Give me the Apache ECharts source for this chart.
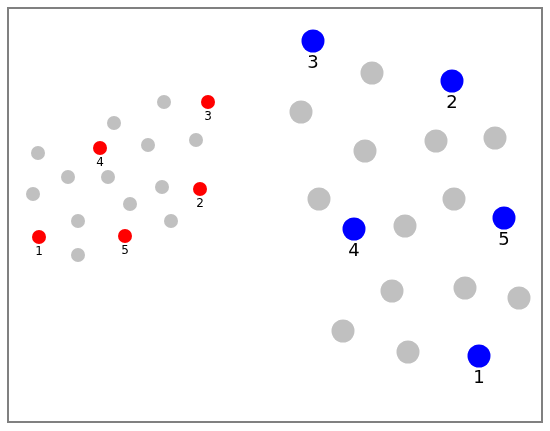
<!DOCTYPE html>
<html>
<head>
<meta charset="utf-8">
<script src="https://cdn.jsdelivr.net/npm/echarts@6/dist/echarts.min.js"></script>
<style>
  html, body { margin: 0; padding: 0; background: #fff; }
  #chart { width: 550px; height: 431px; }
</style>
</head>
<body>
<div id="chart"></div>
<script>
// small gray dots, left cluster
var smallGray = [
  [164, 102], [114, 123], [38, 153], [148, 145], [196, 140],
  [68, 177], [108, 177], [33, 194], [162, 187], [130, 204],
  [78, 221], [171, 221], [78, 255]
]
// red numbered dots 1..5
var smallRed = [
  [39, 237], [200, 189], [208, 102], [100, 148], [125, 236]
]
// large gray dots, right cluster
var bigGray = [
  [372, 73], [301, 112], [436, 141], [495, 138], [365, 151],
  [319, 199], [454, 199], [405, 226], [392, 291], [465, 288],
  [519, 298], [343, 331], [408, 352]
]
// blue numbered dots 1..5
var bigBlue = [
  [479, 356], [452, 81], [313, 41], [354, 229], [504, 218]
]
var pointLabels = ['1', '2', '3', '4', '5']

var myChart = echarts.init(document.getElementById('chart'))

var named = function (arr) {
  return arr.map(function (p, i) {
    return { name: pointLabels[i], value: p }
  })
}

var option = {
  animation: false,
  grid: {
    left: 8,
    top: 8,
    right: 8,
    bottom: 9,
    show: true,
    borderColor: '#808080',
    borderWidth: 2
  },
  xAxis: {
    type: 'value',
    min: 8,
    max: 542,
    show: false
  },
  yAxis: {
    type: 'value',
    min: 8,
    max: 422,
    inverse: true,
    show: false
  },
  series: [
    {
      type: 'scatter',
      data: smallGray,
      symbolSize: 14,
      itemStyle: { color: '#c0c0c0', opacity: 1 }
    },
    {
      type: 'scatter',
      data: named(smallRed),
      symbolSize: 14,
      itemStyle: { color: '#ff0000', opacity: 1 },
      label: {
        show: true,
        position: 'bottom',
        distance: 2,
        formatter: '{b}',
        color: '#000',
        fontSize: 12,
        fontFamily: 'DejaVu Sans'
      }
    },
    {
      type: 'scatter',
      data: bigGray,
      symbolSize: 23,
      itemStyle: { color: '#c0c0c0', opacity: 1 }
    },
    {
      type: 'scatter',
      data: named(bigBlue),
      symbolSize: 23,
      itemStyle: { color: '#0000ff', opacity: 1 },
      label: {
        show: true,
        position: 'bottom',
        distance: 2,
        formatter: '{b}',
        color: '#000',
        fontSize: 18,
        fontFamily: 'DejaVu Sans'
      }
    }
  ]
}

myChart.setOption(option)
</script>
</body>
</html>
